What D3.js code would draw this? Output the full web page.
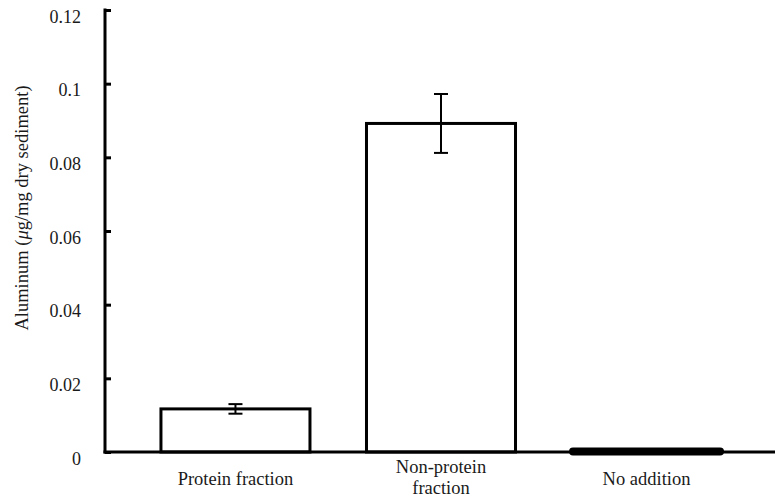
<!DOCTYPE html>
<html><head><meta charset="utf-8">
<script src="https://cdn.jsdelivr.net/npm/d3@7"></script>
</head><body style="margin:0;background:#fff">
<div id="wrap" style="position:relative;width:775px;height:497px;overflow:hidden"><svg id="c" width="775" height="497" style="display:block;position:absolute;left:0;top:0"></svg></div>
<script>
const categories = [["Protein fraction"], ["Non-protein", "fraction"], ["No addition"]];
const values = [0.0117, 0.0892, 0.0005];
const errors = [0.0013, 0.0080, 0];
const yTicks = [0, 0.02, 0.04, 0.06, 0.08, 0.1, 0.12];
const yTitle = ["Aluminum (", "μ", "g/mg dry sediment)"];

const svg = d3.select("#c");
const wrap = d3.select("#wrap");
const x = d3.scaleBand().domain(d3.range(categories.length)).range([133, 749]).paddingInner(0.275).paddingOuter(0.136);
const y = d3.scaleLinear().domain([0, 0.12]).range([452, 10]);

svg.selectAll("rect.bar").data(values).enter().append("rect").attr("class","bar")
  .attr("x", (d,i)=>x(i)).attr("width", x.bandwidth())
  .attr("y", d=>y(d)).attr("height", d=>y(0)-y(d))
  .attr("fill", "#fff").attr("stroke", "#000").attr("stroke-width", 3);

values.forEach((v,i)=>{
  if (v < 0.002) {
    svg.append("line").attr("x1", x(i)+1).attr("x2", x(i)+x.bandwidth()-1)
      .attr("y1", y(v/2)+0.5).attr("y2", y(v/2)+0.5)
      .attr("stroke", "#000").attr("stroke-width", 8).attr("stroke-linecap", "round");
  }
});

values.forEach((v,i)=>{
  const e = errors[i]; if (!e) return;
  const cx = x(i)+x.bandwidth()/2;
  const g = svg.append("g").attr("stroke", "#000").attr("stroke-width", 2);
  g.append("line").attr("x1", cx).attr("x2", cx).attr("y1", y(v+e)).attr("y2", y(v-e));
  g.append("line").attr("x1", cx-7).attr("x2", cx+7).attr("y1", y(v+e)).attr("y2", y(v+e));
  g.append("line").attr("x1", cx-7).attr("x2", cx+7).attr("y1", y(v-e)).attr("y2", y(v-e));
});

const yAxis = d3.axisRight(y).tickValues(yTicks).tickSize(6).tickFormat("");
const ga = svg.append("g").attr("transform", "translate(105,0)").call(yAxis);
ga.select(".domain").remove();
ga.selectAll(".tick line").attr("stroke", "#000").attr("stroke-width", 3);
svg.append("line").attr("x1", 105).attr("x2", 105).attr("y1", y(0.12)-1.5).attr("y2", y(0)+1.5)
  .attr("stroke", "#000").attr("stroke-width", 3);
svg.append("line").attr("x1", 103.5).attr("x2", 775).attr("y1", y(0)).attr("y2", y(0))
  .attr("stroke", "#000").attr("stroke-width", 3);

const SERIF = "'Liberation Serif', serif";
const base = "position:absolute;white-space:nowrap;color:#1a1a1a;";

// y tick labels
const tfs = 18, tOff = 0.9625*tfs;
wrap.selectAll("div.yt").data(yTicks).enter().append("div").attr("class","yt")
  .attr("style", d=>`${base}font:${tfs}px/1.25 ${SERIF};left:81px;top:${y(d)+13-tOff}px;transform:translateX(-100%);`)
  .text(d=>d===0?"0":String(+d.toFixed(2)));

// category labels
const cfs = 18.5, lh = 21, cOff = (lh-1.107*cfs)/2 + 0.891*cfs;
categories.forEach((lines,i)=>{
  const cx = x(i)+x.bandwidth()/2;
  const b = lines.length===1 ? 486 : 474;
  wrap.append("div").attr("class","xl")
    .attr("style", `${base}font:${cfs}px/${lh}px ${SERIF};text-align:center;left:${cx}px;top:${b-cOff}px;transform:translateX(-50%);`)
    .html(lines.join("<br>"));
});

// y title
const tt = wrap.append("div")
  .attr("style", `${base}font:18.5px/1.25 ${SERIF};left:23px;top:208px;transform:translate(-50%,-50%) rotate(-90deg);`);
tt.append("span").text(yTitle[0]);
tt.append("span").attr("style","font-style:italic").text(yTitle[1]);
tt.append("span").text(yTitle[2]);
</script>
</body></html>
